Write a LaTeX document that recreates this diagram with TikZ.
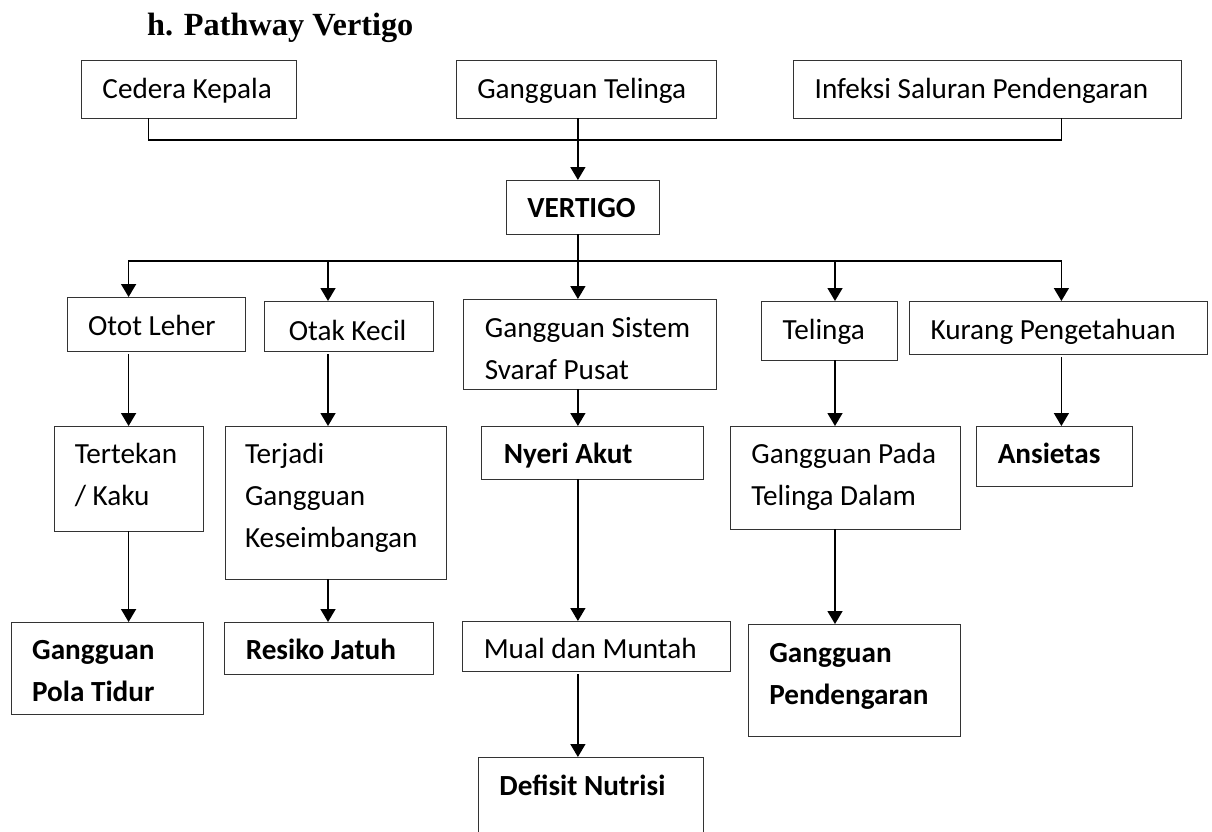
\documentclass[tikz,border=0pt]{standalone}
\usepackage{fontspec}
\newfontfamily\calibri{Carlito}
\newfontfamily\timesrm{Liberation Serif}
\usetikzlibrary{arrows.meta}
\hyphenpenalty=10000

\begin{document}
\begin{tikzpicture}[x=1pt,y=-1pt,>={Triangle[width=15pt,length=13pt]},
	box/.style={draw=black!80,line width=0.9pt,anchor=north west,align=flush left,inner ysep=0pt,inner xsep=21pt,
		font=\calibri\fontsize{29.2}{42}\selectfont},
	bbox/.style={box,font=\calibri\bfseries\fontsize{29.2}{42}\selectfont},
	link/.style={line width=1.5pt,line cap=rect},
	from/.style={shorten <=3pt}]
	\useasboundingbox (0,0) rectangle (1212,831);
	\clip (0,0) rectangle (1212,831);
	\node[anchor=base west,inner sep=0pt,font=\timesrm\bfseries\fontsize{32.3}{38}\selectfont] (title) at (147,35) {h. Pathway Vertigo};
	% penyebab
	\node[box,text width=173pt,text height=38pt,text depth=20pt] (cedera) at (81,60) {Cedera~Kepala};
	\node[box,text width=217.7pt,text height=38pt,text depth=20pt] (gtelinga) at (455.8,60) {Gangguan~Telinga};
	\node[box,text width=346.2pt,text height=38pt,text depth=20pt] (infeksi) at (793.2,60) {Infeksi~Saluran~Pendengaran};
	\node[bbox,text width=110.6pt,text height=37pt,text depth=17pt] (vertigo) at (505.9,180) {VERTIGO};
	% tingkat 1
	\node[box,text width=136pt,text height=38pt,text depth=16pt] (ototleher) at (66.6,297) {Otot~Leher};
	\node[box,text width=120.4pt,inner xsep=24pt,text height=39pt,text depth=11pt] (otakkecil) at (264.4,301) {Otak~Kecil};
	\node[box,text width=210.1pt,text height=38pt,text depth=52pt] (gssp) at (463.4,299) {Gangguan~Sistem\\Svaraf~Pusat};
	\node[box,text width=94.2pt,text height=38pt,text depth=21pt] (telinga) at (761.2,301) {Telinga};
	\node[box,text width=255.9pt,text height=38pt,text depth=15pt] (kurang) at (909.1,301) {Kurang~Pengetahuan};
	% tingkat 2
	\node[box,text width=108.5pt,inner xsep=20pt,text height=37pt,text depth=68pt] (tertekan) at (54.3,426) {Tertekan\\/~Kaku};
	\node[box,text width=181pt,inner xsep=20pt,text height=37pt,text depth=116pt] (terjadi) at (224.6,426) {Terjadi\\Gangguan\\Keseimbangan};
	\node[bbox,text width=177.3pt,inner xsep=22pt,text height=37pt,text depth=16pt] (nyeri) at (481.4,426) {Nyeri~Akut};
	\node[box,text width=187.9pt,text height=37pt,text depth=66pt] (gpada) at (730,426) {Gangguan~Pada\\Telinga~Dalam};
	\node[bbox,text width=114.1pt,text height=37pt,text depth=23pt] (ansietas) at (976.3,426) {Ansietas};
	% tingkat 3
	\node[bbox,text width=150.5pt,text height=37pt,text depth=55pt] (polatidur) at (10.7,622) {Gangguan\\Pola~Tidur};
	\node[bbox,text width=166.5pt,text height=37pt,text depth=15pt] (resiko) at (224.3,622) {Resiko~Jatuh};
	\node[box,text width=226.1pt,text height=37pt,text depth=13pt] (mual) at (462.3,621) {Mual~dan~Muntah};
	\node[bbox,text width=170.4pt,text height=38pt,text depth=74pt] (gpend) at (747.9,624) {Gangguan\\Pendengaran};
	\node[bbox,text width=182.7pt,text height=38pt,text depth=60pt] (defisit) at (478,757) {Defisit~Nutrisi};
	% garis
	\coordinate (barL) at (148.5,140);
	\coordinate (barR) at (1061.4,140);
	\coordinate (c1) at (128.6,261);
	\coordinate (c2) at (328,261);
	\coordinate (c3) at (577.9,261);
	\coordinate (c4) at (835,261);
	\coordinate (c5) at (1061.4,261);
	\draw[link] (cedera.south -| barL) -- (barL) -- (barR) -- (infeksi.south -| barR);
	\draw[link,->] (gtelinga.south -| c3) -- (vertigo.north -| c3);
	\draw[link] (vertigo.south -| c3) -- (c3);
	\draw[link] (c1) -- (c5);
	\draw[link,->] (c1) -- (ototleher.north -| c1);
	\draw[link,->] (c2) -- (otakkecil.north -| c2);
	\draw[link,->] (c3) -- (gssp.north -| c3);
	\draw[link,->] (c4) -- (telinga.north -| c4);
	\draw[link,->] (c5) -- (kurang.north -| c5);
	\draw[link,from,->] (ototleher.south -| c1) -- (tertekan.north -| c1);
	\draw[link,from,->] (otakkecil.south -| c2) -- (terjadi.north -| c2);
	\draw[link,->] (gssp.south -| c3) -- (nyeri.north -| c3);
	\draw[link,->] (telinga.south -| c4) -- (gpada.north -| c4);
	\draw[link,from,->] (kurang.south -| c5) -- (ansietas.north -| c5);
	\draw[link,->] (tertekan.south -| c1) -- (polatidur.north -| c1);
	\draw[link,->] (terjadi.south -| c2) -- (resiko.north -| c2);
	\draw[link,->] (nyeri.south -| c3) -- (mual.north -| c3);
	\draw[link,from,->] (mual.south -| c3) -- (defisit.north -| c3);
	\draw[link,->] (gpada.south -| c4) -- (gpend.north -| c4);
\end{tikzpicture}
\end{document}
